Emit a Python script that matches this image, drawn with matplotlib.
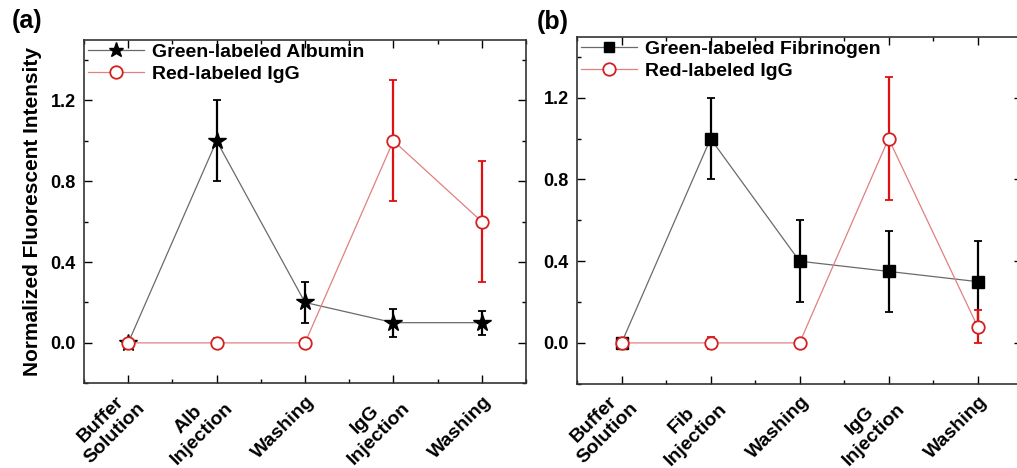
import matplotlib
matplotlib.use("Agg")
import matplotlib.pyplot as plt
from matplotlib.ticker import MultipleLocator
from matplotlib.transforms import offset_copy

plt.rcParams['font.family'] = ['Liberation Sans', 'DejaVu Sans']
plt.rcParams['font.weight'] = 'bold'

steps_a = ["Buffer\nSolution", "Alb\nInjection", "Washing", "IgG\nInjection", "Washing"]
steps_b = ["Buffer\nSolution", "Fib\nInjection", "Washing", "IgG\nInjection", "Washing"]

alb_val = [0.0, 1.0, 0.2, 0.1, 0.1]
alb_err = [0.0, 0.2, 0.1, 0.07, 0.06]
igg_a_val = [0.0, 0.0, 0.0, 1.0, 0.6]
igg_a_err = [0.015, 0.025, 0.015, 0.3, 0.3]

fib_val = [0.0, 1.0, 0.4, 0.35, 0.3]
fib_err = [0.0, 0.2, 0.2, 0.2, 0.2]
igg_b_val = [0.0, 0.0, 0.0, 1.0, 0.08]
igg_b_err = [0.015, 0.03, 0.015, 0.3, 0.08]

yticks = [0.0, 0.4, 0.8, 1.2]

fig = plt.figure(figsize=(10.17, 4.68), dpi=100)
ax_a = fig.add_axes([0.0826, 0.181, 0.4346, 0.734])
ax_b = fig.add_axes([0.5674, 0.180, 0.4376, 0.742])

def draw(ax, labels, bval, berr, bmarker, bms, bname, rval, rerr, rname):
    x = list(range(1, len(labels) + 1))
    ax.plot(x, bval, color='#6a6a6a', lw=0.9, zorder=2)
    ax.errorbar(x, bval, yerr=berr, fmt='none', ecolor='black', elinewidth=1.6,
                capsize=3, capthick=1.3, zorder=3)
    ax.plot(x, bval, ls='none', marker=bmarker, ms=bms, color='black', zorder=4)
    ax.plot(x, rval, color='#e08080', lw=0.9, zorder=5)
    ax.errorbar(x, rval, yerr=rerr, fmt='none', ecolor='#e01010', elinewidth=1.6,
                capsize=3, capthick=1.3, zorder=6)
    ax.plot(x, rval, ls='none', marker='o', ms=9, mfc='white', mec='#d42020',
            mew=1.3, zorder=7)
    hb, = ax.plot([], [], color='#6a6a6a', lw=0.9, marker=bmarker, ms=bms * 0.85,
                  mfc='black', mec='black')
    hr, = ax.plot([], [], color='#e08080', lw=0.9, marker='o', ms=9, mfc='white',
                  mec='#d42020', mew=1.3)
    ax.legend([hb, hr], [bname, rname], loc='upper left', frameon=False,
              fontsize=14, handlelength=2.9, handletextpad=0.4,
              borderaxespad=0.0, borderpad=0.2, labelspacing=0.2)
    ax.set_xlim(0.5, 5.5)
    ax.set_ylim(-0.2, 1.5)
    ax.set_xticks(x)
    ax.set_xticklabels([])
    trans = offset_copy(ax.get_xaxis_transform(), fig=fig, x=5, y=-11, units='points')
    for xi, lab in zip(x, labels):
        ax.text(xi, 0, lab, transform=trans, rotation=45, ha='right', va='center',
                rotation_mode='anchor', multialignment='center',
                fontsize=14, fontweight='bold')
    ax.set_yticks(yticks)
    ax.set_yticklabels([f"{v:.1f}" for v in yticks], fontsize=13, fontweight='bold')
    ax.xaxis.set_minor_locator(MultipleLocator(0.5))
    ax.yaxis.set_minor_locator(MultipleLocator(0.2))
    ax.tick_params(which='both', direction='in', top=True, right=True, width=1.0)
    ax.tick_params(which='major', length=6)
    ax.tick_params(which='minor', length=3)
    ax.tick_params(axis='y', which='major', pad=6)
    for s in ax.spines.values():
        s.set_linewidth(1.2)
        s.set_color('#333333')

draw(ax_a, steps_a, alb_val, alb_err, '*', 13, 'Green-labeled Albumin',
     igg_a_val, igg_a_err, 'Red-labeled IgG')
draw(ax_b, steps_b, fib_val, fib_err, 's', 8, 'Green-labeled Fibrinogen',
     igg_b_val, igg_b_err, 'Red-labeled IgG')

ax_a.set_ylabel('Normalized Fluorescent Intensity', fontsize=15, fontweight='bold', labelpad=6)

fig.text(0.012, 0.955, '(a)', fontsize=18, fontweight='bold', va='center', ha='left')
fig.text(0.528, 0.953, '(b)', fontsize=18, fontweight='bold', va='center', ha='left')

fig.savefig('out.png', dpi=100)
